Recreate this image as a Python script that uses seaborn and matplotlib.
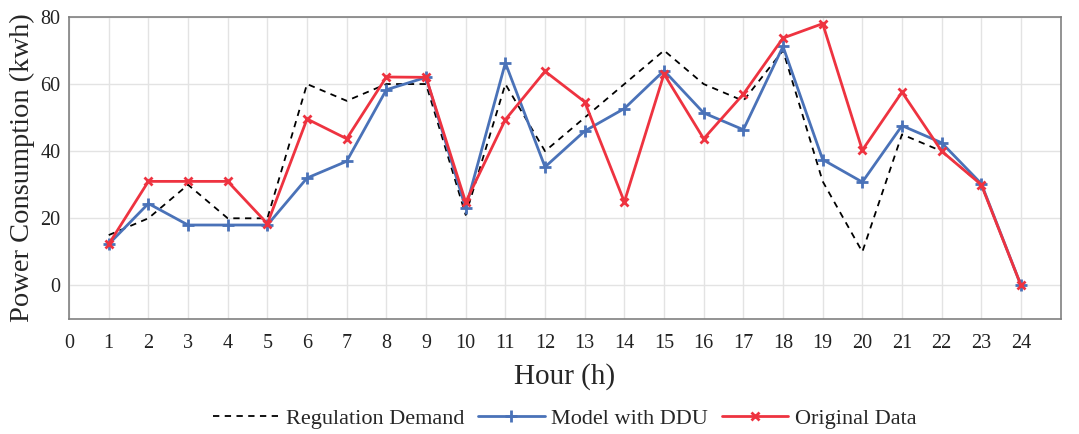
import numpy as np
import pandas as pd
import matplotlib
matplotlib.use("Agg")
import matplotlib.pyplot as plt
import seaborn as sns

hours = list(range(1, 25))
regulation_demand = [15, 20, 30, 20, 20, 60, 55, 60, 60, 21, 60, 40,
                     50, 60, 70, 60, 55, 70, 31, 10, 45, 40, 30, 0]
model_ddu = [12.3, 24.4, 18, 18, 18, 32, 37, 58.3, 62, 23, 66.3, 35.3,
             46, 52.7, 64, 51.4, 46.4, 71.2, 37.5, 30.8, 47.6, 42.5, 30.3, 0]
original = [12.3, 31, 31, 31, 18.4, 49.6, 43.7, 62.1, 62, 24.8, 49.4, 63.8,
            54.7, 24.9, 63, 43.7, 57, 73.7, 78, 40.3, 57.6, 40, 30, 0]

sns.set_style("white")
plt.rcParams['font.family'] = ['Liberation Serif', 'DejaVu Serif']

df = pd.DataFrame({"hour": hours, "Regulation Demand": regulation_demand,
                   "Model with DDU": model_ddu, "Original Data": original})

blue = "#4A72B8"
red = "#EE3340"

fig = plt.figure(figsize=(10.79, 4.34), dpi=100)
ax = fig.add_axes([0.064, 0.265, 0.919, 0.696])

sns.lineplot(data=df, x="hour", y="Regulation Demand", ax=ax, color="black",
             linestyle=(0, (3.5, 3)), linewidth=1.3, label="Regulation Demand")
sns.lineplot(data=df, x="hour", y="Model with DDU", ax=ax, color=blue,
             marker="+", markersize=8, markeredgewidth=2, markeredgecolor=blue,
             linewidth=2, label="Model with DDU")
sns.lineplot(data=df, x="hour", y="Original Data", ax=ax, color=red,
             marker="x", markersize=6, markeredgewidth=2, markeredgecolor=red,
             linewidth=2, label="Original Data")

ax.set_xlim(0, 25)
ax.set_ylim(-10, 80)
ax.set_xticks(range(0, 25))
ax.set_yticks([0, 20, 40, 60, 80])
ax.tick_params(axis='y', labelsize=14.5, length=0, pad=6, colors="#222222")
ax.tick_params(axis='x', labelsize=14.5, length=0, pad=11, colors="#222222")
ax.grid(True, color="#e3e3e3", linewidth=1)
for s in ax.spines.values():
    s.set_color("#808080")
    s.set_linewidth(1.2)
ax.set_xlabel("Hour (h)", fontsize=21, labelpad=7)
ax.set_ylabel("Power Consumption (kwh)", fontsize=20.5, labelpad=4)

ax.legend(loc="center", bbox_to_anchor=(0.5, -0.33), ncol=3, frameon=False,
          fontsize=16, handlelength=3.0, handletextpad=0.3, columnspacing=0.6)

fig.savefig("out.png", dpi=100)
